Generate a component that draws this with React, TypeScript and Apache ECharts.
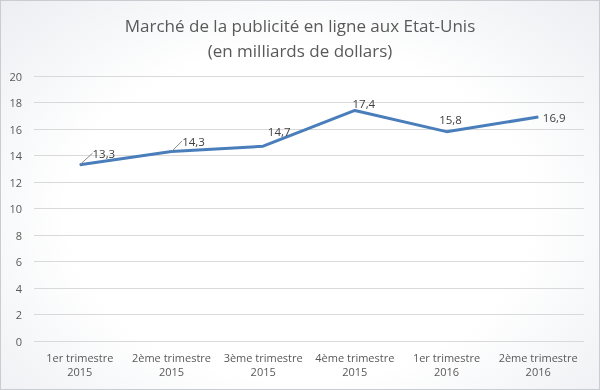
import React, { useEffect, useRef } from "react";
import * as echarts from "echarts";

const titleLines = ["Marché de la publicité en ligne aux Etat-Unis", "(en milliards de dollars)"];
const categories = [
  "1er trimestre\n2015",
  "2ème trimestre\n2015",
  "3ème trimestre\n2015",
  "4ème trimestre\n2015",
  "1er trimestre\n2016",
  "2ème trimestre\n2016",
];
const values = [13.3, 14.3, 14.7, 17.4, 15.8, 16.9];
const labelShift = [
  [24, 0],
  [22, 1],
  [16, -3],
  [9, 5],
  [4, -1],
  [16, 12],
];
const leaderShown = [true, true, false, false, false, false];

export default function App() {
  const ref = useRef<HTMLDivElement>(null);
  useEffect(() => {
    if (!ref.current) return;
    const chart = echarts.init(ref.current, null, { renderer: "svg" });
    const font = "'Open Sans', 'Noto Sans', sans-serif";
    chart.setOption({
      animation: false,
      title: {
        text: titleLines.join("\n"),
        left: "center",
        top: 7,
        textStyle: {
          fontFamily: font,
          fontSize: 17,
          fontWeight: "normal",
          color: "#595959",
          lineHeight: 25,
        },
      },
      grid: { left: 33, right: 15, top: 75, bottom: 48, containLabel: false },
      xAxis: {
        type: "category",
        data: categories,
        boundaryGap: true,
        axisLine: { show: false },
        axisTick: { show: false },
        axisLabel: {
          fontFamily: font,
          fontSize: 11,
          color: "#595959",
          lineHeight: 14,
          margin: 9,
          interval: 0,
        },
      },
      yAxis: {
        type: "value",
        min: 0,
        max: 20,
        interval: 2,
        axisLine: { show: false },
        axisTick: { show: false },
        axisLabel: { fontFamily: font, fontSize: 11, color: "#595959", margin: 12 },
        splitLine: { lineStyle: { color: "#d9d9d9", width: 1 } },
      },
      series: [
        {
          type: "line",
          data: values.map((v, i) => ({
            value: v,
            labelLine: { show: leaderShown[i] },
          })),
          symbol: "circle",
          symbolSize: 1,
          itemStyle: { color: "#4a7ebb" },
          lineStyle: { color: "#4a7ebb", width: 3 },
          label: {
            show: true,
            position: "top",
            distance: 5,
            fontFamily: font,
            fontSize: 11.5,
            color: "#404040",
            formatter: (p: any) => String(p.value).replace(".", ","),
          },
          labelLine: { show: true, lineStyle: { color: "#8c8c8c", width: 1 } },
          labelLayout: (p: any) => ({
            dx: labelShift[p.dataIndex][0],
            dy: labelShift[p.dataIndex][1],
          }),
        },
      ],
    });
    return () => chart.dispose();
  }, []);
  return (
    <div
      style={{
        position: "fixed",
        left: 0,
        top: 0,
        width: 600,
        height: 390,
        boxSizing: "border-box",
        border: "1px solid #c9ccd1",
        background: "radial-gradient(ellipse at 50% 55%, #ffffff 55%, #eceef2 100%)",
      }}
    >
      <div ref={ref} style={{ width: 598, height: 388 }} />
    </div>
  );
}
